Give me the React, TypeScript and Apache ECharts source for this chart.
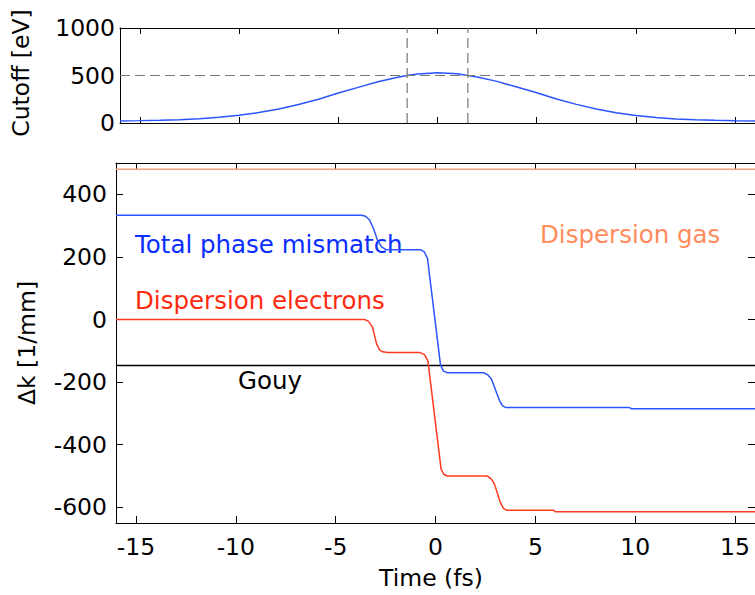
import React, { useEffect, useRef } from "react";
import * as echarts from "echarts";

// ---- Data ----
const timeTicks = [-15, -10, -5, 0, 5, 10, 15];
const cutoffTicks = [0, 500, 1000];
const dkTicks = [-600, -400, -200, 0, 200, 400];

const cutoffTime = [-16, -15, -14, -13, -12, -11, -10, -9, -8, -7, -6, -5, -4, -3, -2, -1.53, -1, 0, 1, 1.53, 2, 3, 4, 5, 6, 7, 8, 9, 10, 11, 12, 13, 14, 15, 16];
const cutoffValues = [22, 25, 29, 35, 45, 60, 82, 110, 148, 195, 250, 315, 375, 435, 482, 500, 515, 530, 518, 500, 485, 438, 378, 318, 252, 196, 148, 108, 80, 58, 43, 34, 28, 24, 22];

const cutoffLevel = 500;
const cutoffWindow = [-1.53, 1.53];

const totalTime = [-16, -3.7, -3.5, -3.3, -3.1, -2.9, -2.7, -2.5, -2.3, -0.75, -0.55, -0.4, 0.25, 0.4, 0.6, 2.4, 2.6, 2.8, 3.2, 3.35, 3.5, 9.7, 9.8, 16];
const totalValues = [333, 333, 330, 318, 290, 252, 232, 224, 223, 223, 215, 195, -145, -165, -170, -170, -176, -190, -258, -275, -281, -281, -285, -285];

const electronTime = [-16, -3.55, -3.35, -3.15, -2.95, -2.8, -2.65, -2.4, -0.8, -0.55, -0.38, 0.28, 0.42, 0.6, 2.6, 2.8, 2.95, 3.25, 3.4, 3.55, 5.9, 6.0, 16];
const electronValues = [0, 0, -6, -25, -78, -97, -103, -105, -105, -112, -132, -478, -495, -500, -500, -510, -525, -585, -603, -609, -609, -614, -614];

const gasTime = [-16, 16];
const gasValues = [480, 480];

const gouyTime = [-16, 16];
const gouyValues = [-147, -147];

const pair = (xs: number[], ys: number[]) => xs.map((x, i) => [x, ys[i]]);

const FONT = "DejaVu Sans";
const FS = 23.5;
const AFS = 24.5;

export default function App() {
  const ref = useRef<HTMLDivElement>(null);

  useEffect(() => {
    document.body.style.margin = "0";
    if (!ref.current) return;
    const chart = echarts.init(ref.current, undefined, { renderer: "svg" });

    const plain = (v: number) => String(v);
    const axisLine = { show: true, lineStyle: { color: "#000", width: 1 } };
    const xBase = (grid: number, pos: "top" | "bottom", labels: boolean, tickLen: number) => ({
      type: "value",
      gridIndex: grid,
      position: pos,
      min: -16,
      max: 16,
      axisLine: { ...axisLine, onZero: false },
      axisTick: { show: true, inside: true, length: tickLen, customValues: timeTicks, lineStyle: { color: "#000" } },
      axisLabel: labels
        ? { show: true, customValues: timeTicks, formatter: plain, fontFamily: FONT, fontSize: FS, color: "#000", margin: 12 }
        : { show: false },
      splitLine: { show: false },
    });
    const yBase = (grid: number, pos: "left" | "right", min: number, max: number, ticks: number[], labels: boolean, tickLen: number, margin: number) => ({
      type: "value",
      gridIndex: grid,
      position: pos,
      min,
      max,
      axisLine: { ...axisLine, onZero: false },
      axisTick: { show: true, inside: true, length: tickLen, customValues: ticks, lineStyle: { color: "#000" } },
      axisLabel: labels
        ? { show: true, customValues: ticks, formatter: plain, fontFamily: FONT, fontSize: FS, color: "#000", margin }
        : { show: false },
      splitLine: { show: false },
    });

    const text = (t: string, x: number, y: number, fill: string, align: string, size: number, rot = 0) => ({
      type: "text",
      x,
      y,
      rotation: rot,
      style: { text: t, font: `${size}px "${FONT}"`, fill, textAlign: align, textVerticalAlign: "middle" },
    });

    const option: any = {
      animation: false,
      backgroundColor: "#fff",
      grid: [
        { left: 120, top: 28, width: 640, height: 95 },
        { left: 116, top: 163, width: 643, height: 360 },
      ],
      xAxis: [
        xBase(0, "bottom", false, 6),
        xBase(0, "top", false, 6),
        xBase(1, "bottom", true, 7),
        xBase(1, "top", false, 7),
      ],
      yAxis: [
        yBase(0, "left", 0, 1000, cutoffTicks, true, 6, 5),
        yBase(0, "right", 0, 1000, cutoffTicks, false, 6, 5),
        yBase(1, "left", -650, 500, dkTicks, true, 7, 9),
        yBase(1, "right", -650, 500, dkTicks, false, 7, 9),
      ],
      series: [
        {
          type: "line",
          xAxisIndex: 0,
          yAxisIndex: 0,
          data: pair(cutoffTime, cutoffValues),
          symbol: "none",
          lineStyle: { color: "#2a55ff", width: 1.5 },
        },
        {
          type: "line",
          xAxisIndex: 0,
          yAxisIndex: 0,
          data: [[-16, cutoffLevel], [16, cutoffLevel]],
          symbol: "none",
          lineStyle: { color: "#777", width: 1.2, type: [10, 5] },
        },
        {
          type: "line",
          xAxisIndex: 0,
          yAxisIndex: 0,
          data: [[cutoffWindow[0], 0], [cutoffWindow[0], 1000]],
          symbol: "none",
          lineStyle: { color: "#777", width: 1.2, type: [10, 5] },
        },
        {
          type: "line",
          xAxisIndex: 0,
          yAxisIndex: 0,
          data: [[cutoffWindow[1], 0], [cutoffWindow[1], 1000]],
          symbol: "none",
          lineStyle: { color: "#777", width: 1.2, type: [10, 5] },
        },
        {
          name: "Dispersion gas",
          type: "line",
          xAxisIndex: 2,
          yAxisIndex: 2,
          data: pair(gasTime, gasValues),
          symbol: "none",
          lineStyle: { color: "#ff9f7f", width: 1.5 },
        },
        {
          name: "Gouy",
          type: "line",
          xAxisIndex: 2,
          yAxisIndex: 2,
          data: pair(gouyTime, gouyValues),
          symbol: "none",
          lineStyle: { color: "#000", width: 1.5 },
        },
        {
          name: "Total phase mismatch",
          type: "line",
          xAxisIndex: 2,
          yAxisIndex: 2,
          data: pair(totalTime, totalValues),
          symbol: "none",
          lineStyle: { color: "#2a55ff", width: 1.5 },
        },
        {
          name: "Dispersion electrons",
          type: "line",
          xAxisIndex: 2,
          yAxisIndex: 2,
          data: pair(electronTime, electronValues),
          symbol: "none",
          lineStyle: { color: "#ff3a20", width: 1.5 },
        },
      ],
      graphic: [
        text("Cutoff [eV]", 21, 73, "#000", "center", FS, Math.PI / 2),
        text("Δk [1/mm]", 27, 343, "#000", "center", FS, Math.PI / 2),
        text("Time (fs)", 431, 578, "#000", "center", FS),
        text("Total phase mismatch", 135, 244, "#0a2eff", "left", AFS),
        text("Dispersion electrons", 135, 300, "#ff2a10", "left", AFS),
        text("Dispersion gas", 540, 234, "#ff8c5c", "left", AFS),
        text("Gouy", 238, 380, "#000", "left", AFS),
      ],
    };

    chart.setOption(option);
    return () => chart.dispose();
  }, []);

  return <div ref={ref} style={{ width: 755, height: 595 }} />;
}
